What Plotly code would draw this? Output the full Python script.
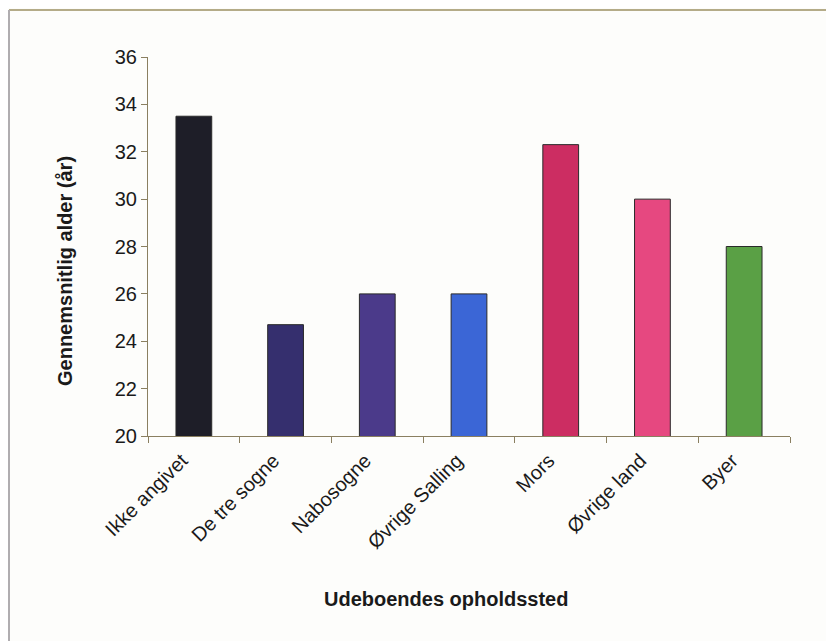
import plotly.graph_objects as go

categories = ["Ikke angivet", "De tre sogne", "Nabosogne", "Øvrige Salling", "Mors", "Øvrige land", "Byer"]
values = [33.5, 24.7, 26.0, 26.0, 32.3, 30.0, 28.0]
colors = ["#1e1e28", "#352f6e", "#4b3a8a", "#3b66d6", "#cc2d62", "#e64880", "#5aa045"]
y_ticks = [20, 22, 24, 26, 28, 30, 32, 34, 36]

FONT = "Liberation Sans, Arial, sans-serif"
AXIS = "#8a7f60"

# page offset of the figure (body margin) is 8px; plot area in page px: x 148..790, y 57..436
PX0, PX1, PY0, PY1 = 148, 790, 57, 436
PW, PH = PX1 - PX0, PY1 - PY0


def px(x):
    return (x - PX0) / PW


def py(y):
    return (PY1 - y) / PH


fig = go.Figure(go.Bar(
    x=categories, y=values,
    marker=dict(color=colors, line=dict(color="#2a2a2a", width=1)),
    width=0.39,
))

fig.update_layout(
    width=834, height=641,
    margin=dict(l=PX0 - 8, r=834 - (PX1 - 8), t=PY0 - 8, b=641 - (PY1 - 8)),
    paper_bgcolor="#fdfdfb", plot_bgcolor="#fdfdfb",
    showlegend=False,
    font=dict(family=FONT, size=20, color="#1a1a1a"),
    xaxis=dict(
        type="category", showgrid=False, showline=True, linecolor=AXIS, linewidth=1,
        ticks="outside", tickson="boundaries", ticklen=6, tickcolor=AXIS,
        tickangle=-45, tickfont=dict(size=20, family=FONT),
        ticklabelshift=-12, ticklabelstandoff=4,
    ),
    yaxis=dict(
        range=[20, 36], tickvals=y_ticks, showgrid=False, zeroline=False,
        showline=True, linecolor=AXIS, linewidth=1,
        ticks="outside", ticklen=6, tickcolor=AXIS,
        tickfont=dict(size=20, family=FONT),
    ),
    annotations=[
        dict(text="<b>Gennemsnitlig alder (år)</b>", xref="paper", yref="paper",
             x=px(65), y=py(271), textangle=-90, showarrow=False,
             xanchor="center", yanchor="middle", font=dict(size=20, family=FONT)),
        dict(text="<b>Udeboendes opholdssted</b>", xref="paper", yref="paper",
             x=px(446), y=py(599), showarrow=False,
             xanchor="center", yanchor="middle", font=dict(size=20, family=FONT)),
    ],
    shapes=[
        dict(type="line", xref="paper", yref="paper",
             x0=px(9), x1=px(842), y0=py(10), y1=py(10),
             line=dict(color="#b4ab88", width=2)),
        dict(type="line", xref="paper", yref="paper",
             x0=px(9), x1=px(9), y0=py(10), y1=py(660),
             line=dict(color="#b0adb0", width=2)),
    ],
)

fig.write_html("out.html")
